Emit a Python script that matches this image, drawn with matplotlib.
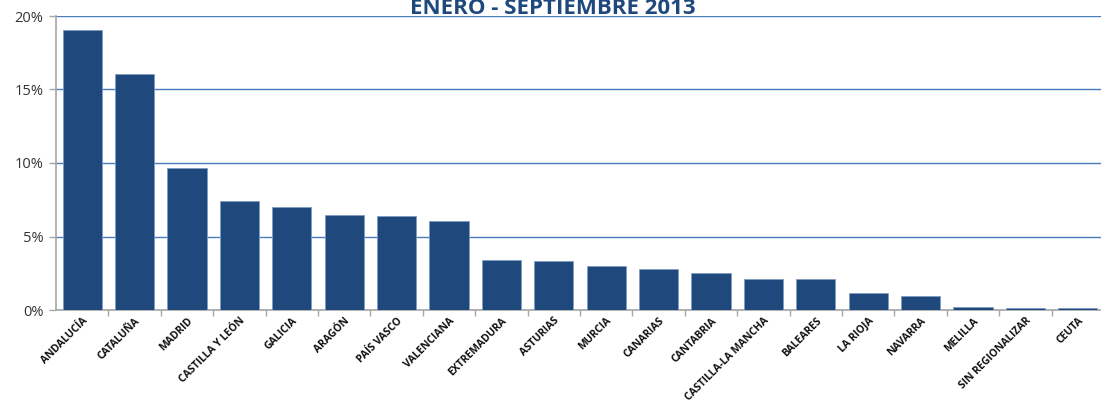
import matplotlib.pyplot as plt
from matplotlib.ticker import FuncFormatter, FixedLocator

# Distribución por comunidades, enero-septiembre 2013 (%)
comunidades = ["ANDALUCÍA", "CATALUÑA", "MADRID", "CASTILLA Y LEÓN", "GALICIA",
               "ARAGÓN", "PAÍS VASCO", "VALENCIANA", "EXTREMADURA", "ASTURIAS",
               "MURCIA", "CANARIAS", "CANTABRIA", "CASTILLA-LA MANCHA", "BALEARES",
               "LA RIOJA", "NAVARRA", "MELILLA", "SIN REGIONALIZAR", "CEUTA"]
porcentajes = [19.05, 16.05, 9.66, 7.41, 7.00, 6.46, 6.39, 6.05, 3.42, 3.33,
               2.97, 2.81, 2.52, 2.09, 2.09, 1.18, 0.95, 0.20, 0.13, 0.12]
titulo = "ENERO - SEPTIEMBRE 2013"

azul = "#1f497d"
gris = "#a6a6a6"

fig = plt.figure(figsize=(11.01, 4.07), dpi=100)
ax = fig.add_axes([56 / 1101, 97 / 407, 1048 / 1101, 294 / 407])

x = list(range(len(comunidades)))
ax.bar(x, porcentajes, width=0.75, color=azul, edgecolor="#7f9cc2",
       linewidth=0.6, zorder=3)

ax.set_xlim(-0.5, len(comunidades) - 0.5)
ax.set_ylim(0, 20)
ax.set_yticks([0, 5, 10, 15, 20])
ax.yaxis.set_major_formatter(FuncFormatter(lambda v, p: f"{v:.0f}%"))
ax.grid(axis="y", color="#4a7ebb", linewidth=1.0, zorder=0)
ax.set_axisbelow(True)

for s in ["top", "right"]:
    ax.spines[s].set_visible(False)
for s in ["left", "bottom"]:
    ax.spines[s].set_color(gris)
    ax.spines[s].set_linewidth(1.2)

# marcas de categoría entre barras, etiquetas centradas
ax.set_xticks(x)
ax.xaxis.set_minor_locator(FixedLocator([i + 0.5 for i in x]))
ax.tick_params(axis="x", which="major", length=0, pad=4)
ax.tick_params(axis="x", which="minor", length=4, color=gris, width=1)
ax.tick_params(axis="y", length=5, color=gris, width=1, pad=4,
               labelsize=10.5, labelcolor="#333333")
for lab in ax.get_yticklabels():
    lab.set_family("Open Sans")

ax.set_xticklabels(comunidades, rotation=45, ha="right", rotation_mode="anchor",
                   fontsize=7.5, fontweight="bold", family="Open Sans",
                   color="#111111")

fig.text(553 / 1101, 1 - 14 / 407, titulo, ha="center", va="baseline",
         fontsize=16, fontweight="bold", color=azul, family="Open Sans")

fig.savefig("out.png", dpi=100)
